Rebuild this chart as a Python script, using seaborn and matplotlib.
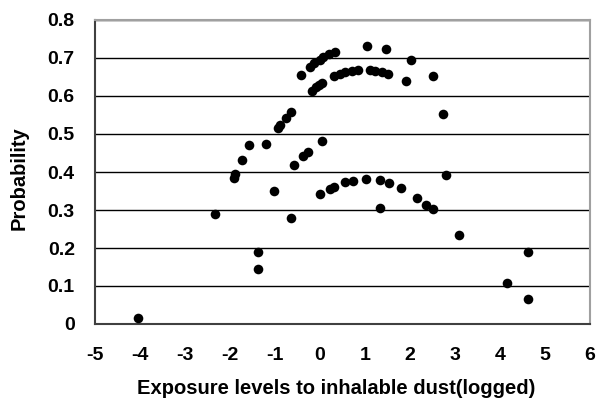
import pandas as pd
import matplotlib
matplotlib.use('Agg')
import matplotlib.pyplot as plt
import seaborn as sns

# exposure (logged) and probability
exposure = [-4.05, -2.34, -1.92, -1.88, -1.73, -1.57, -1.38, -1.38, -1.19, -1.02,
            -0.93, -0.88, -0.76, -0.65, -0.64, -0.57, -0.43, -0.38, -0.27,
            -0.22, -0.13, -0.01, 0.07, 0.21, 0.33,
            -0.18, -0.09, -0.03, 0.04, 0.04,
            0.00, 0.22, 0.30, 0.56, 0.73, 1.02, 1.33, 1.54, 1.79, 2.16,
            1.33, 2.36, 2.50, 3.08, 4.16, 4.62, 4.62, 2.81, 2.74, 2.51,
            2.03, 1.91, 1.05, 1.47,
            0.32, 0.44, 0.56, 0.70, 0.85, 1.11, 1.22, 1.38, 1.52]
probability = [0.015, 0.289, 0.385, 0.394, 0.432, 0.471, 0.189, 0.145, 0.473, 0.351,
               0.515, 0.523, 0.542, 0.557, 0.280, 0.418, 0.655, 0.443, 0.453,
               0.677, 0.686, 0.696, 0.703, 0.711, 0.715,
               0.613, 0.624, 0.629, 0.634, 0.482,
               0.341, 0.355, 0.361, 0.373, 0.377, 0.382, 0.378, 0.370, 0.359, 0.332,
               0.305, 0.314, 0.302, 0.234, 0.108, 0.189, 0.067, 0.392, 0.553, 0.652,
               0.696, 0.640, 0.731, 0.724,
               0.652, 0.658, 0.663, 0.666, 0.668, 0.668, 0.667, 0.663, 0.659]

df = pd.DataFrame({'Exposure': exposure, 'Probability': probability})

sns.set_style('white')
plt.rcParams['font.family'] = ['Liberation Sans', 'DejaVu Sans']
plt.rcParams['font.weight'] = 'bold'
plt.rcParams['axes.unicode_minus'] = False
plt.rcParams['text.color'] = 'black'
plt.rcParams['axes.labelcolor'] = 'black'
plt.rcParams['xtick.color'] = 'black'
plt.rcParams['ytick.color'] = 'black'

fig = plt.figure(figsize=(5.96, 4.0), dpi=100)
ax = fig.add_axes([95 / 596, 1 - 324 / 400, 495 / 596, 304 / 400])

sns.scatterplot(x='Exposure', y='Probability', data=df, ax=ax,
                color='black', s=48, edgecolor='black', linewidth=0, zorder=3)

ax.set_xlim(-5, 6)
ax.set_ylim(0, 0.8)
ax.set_xticks(range(-5, 7))
ax.set_yticks([0, 0.1, 0.2, 0.3, 0.4, 0.5, 0.6, 0.7, 0.8])
ax.set_yticklabels(['0', '0.1', '0.2', '0.3', '0.4', '0.5', '0.6', '0.7', '0.8'])

# horizontal gridlines only
ax.yaxis.grid(True, color='black', linewidth=1)
ax.xaxis.grid(False)
ax.set_axisbelow(True)

for side in ['left', 'bottom']:
    ax.spines[side].set_color('#404040')
    ax.spines[side].set_linewidth(1.5)
for side in ['top', 'right']:
    ax.spines[side].set_color('#a0a0a0')
    ax.spines[side].set_linewidth(1.5)

ax.tick_params(axis='both', direction='out', width=1.2, color='#404040',
               labelcolor='black', labelsize=14)
ax.tick_params(axis='y', length=6.5, pad=8)
ax.tick_params(axis='x', length=4.5, pad=12)
for lab in ax.get_xticklabels() + ax.get_yticklabels():
    lab.set_fontweight('bold')

ax.set_xlabel('Exposure levels to inhalable dust(logged)', fontsize=14.5, fontweight='bold', color='black')
ax.set_ylabel('Probability', fontsize=14.5, fontweight='bold', color='black')
ax.xaxis.set_label_coords(0.487, -0.18)
ax.yaxis.set_label_coords(-0.135, 0.48)

plt.savefig('out.png', dpi=100)
